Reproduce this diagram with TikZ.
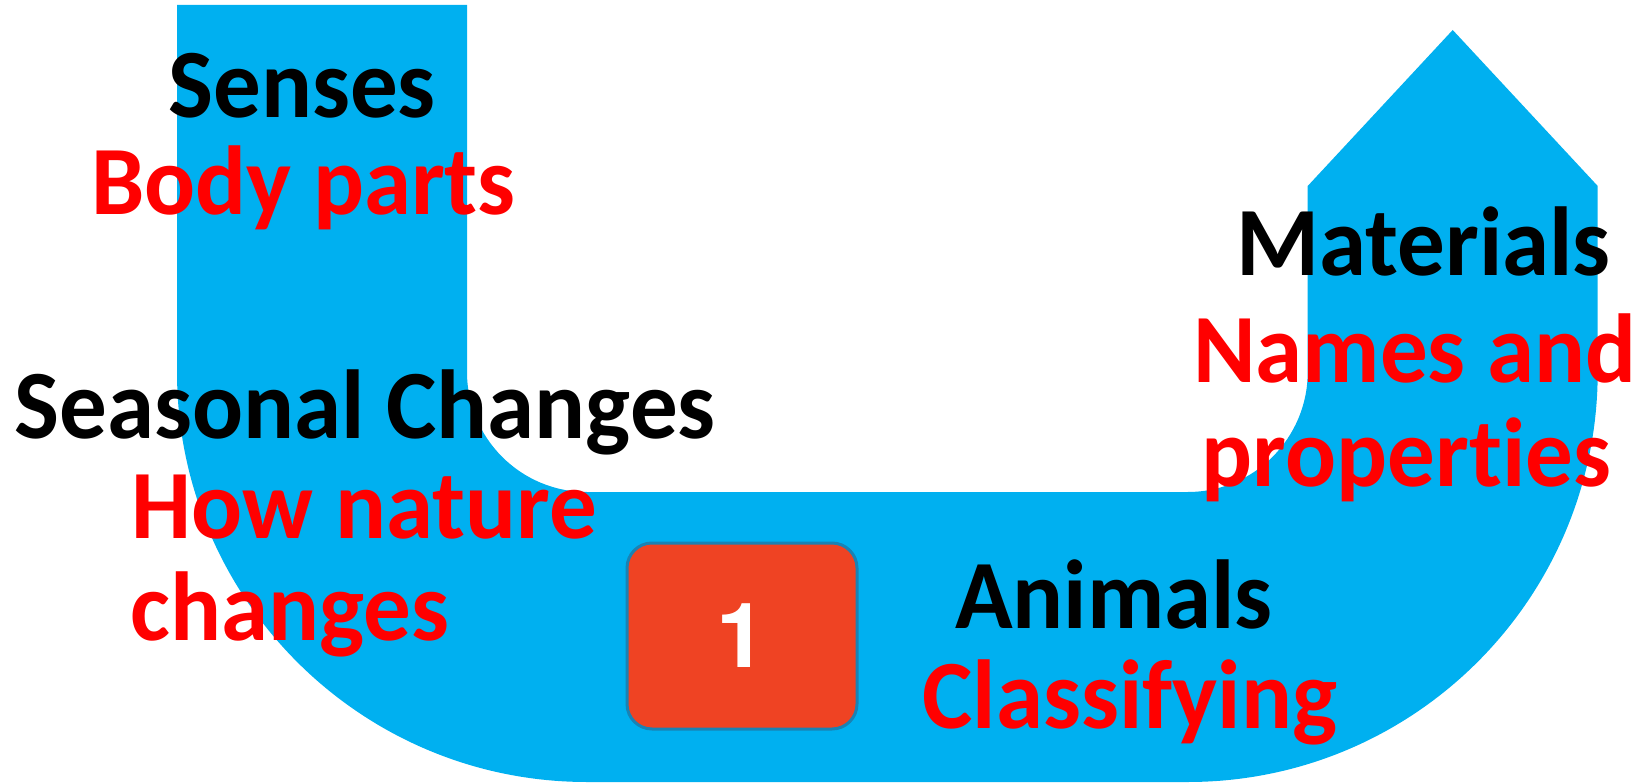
\documentclass[tikz,border=0pt]{standalone}
\usepackage{fontspec}
\setmainfont[FakeStretch=0.97,Ligatures=NoCommon]{Carlito}
\newfontfamily\digitfont{TeX Gyre Heros}
\definecolor{ublue}{HTML}{00B0F0}
\definecolor{boxred}{HTML}{EF4323}
\definecolor{boxedge}{HTML}{1A82B4}
\definecolor{txtred}{HTML}{FF0000}
\begin{document}
\begin{tikzpicture}[x=0.5pt,y=0.5pt,
  lbl/.style={inner sep=0pt,anchor=base,font=\fontsize{49}{59}\selectfont\bfseries},
  blk/.style={lbl,text=black},
  redt/.style={lbl,text=txtred},
  numbox/.style={draw=boxedge,line width=1.5pt,fill=boxred,rounded corners=12.5pt,
    minimum width=115pt,minimum height=93pt,inner sep=0pt,text=white}]
\useasboundingbox (0,0) rectangle (1637,783);
% U-turn arrow
\fill[ublue] (177,778) -- (177,411)
  arc[start angle=180,end angle=270,radius=410] -- (1187.7,1)
  arc[start angle=270,end angle=360,radius=410] -- (1597.7,597)
  -- (1452.7,753) -- (1307.7,597) -- (1307.7,411)
  arc[start angle=0,end angle=-90,radius=120] -- (587,291)
  arc[start angle=270,end angle=180,radius=120] -- (467,778) -- cycle;
% number box
\node[numbox] (num) at (742,147) {\digitfont\fontsize{45}{50}\selectfont\bfseries 1};
% labels
\node[blk] (senses) at (302.1,665.7) {Senses};
\node[redt] (body) at (303.4,568.7) {Body parts};
\node[blk] (seasonal) at (365.2,344.7) {Seasonal Changes};
\node[redt] (how) at (364.3,244.7) {How nature};
\node[redt] (changes) at (289.8,143) {changes};
\node[blk] (materials) at (1423.5,507) {Materials};
\node[redt] (names) at (1414.7,400.3) {Names and};
\node[redt] (props) at (1406.5,297) {properties};
\node[blk] (animals) at (1113.9,154.7) {Animals};
\node[redt] (classify) at (1129.9,54.7) {Classifying};
\end{tikzpicture}
\end{document}
